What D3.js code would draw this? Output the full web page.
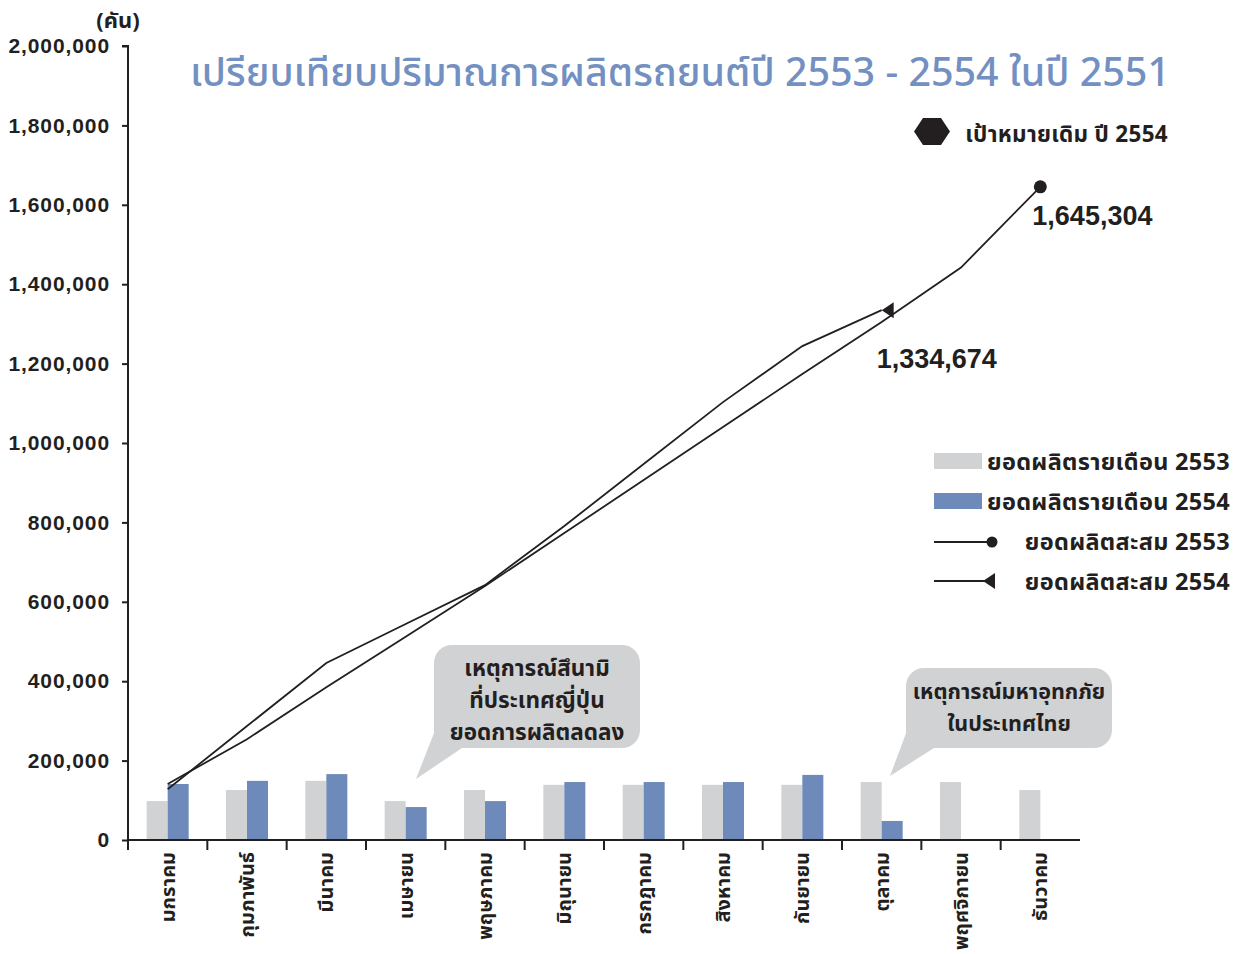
<!DOCTYPE html>
<html lang="th">
<head>
<meta charset="utf-8">
<script src="https://cdn.jsdelivr.net/npm/d3@7"></script>
<style>
  html, body { margin: 0; padding: 0; background: #ffffff; }
  svg { display: block; }
  text { font-family: "Noto Sans Thai", "Noto Sans", "DejaVu Sans", "Liberation Sans", sans-serif; }
  .num { font-family: "Liberation Sans", Arial, "Noto Sans Thai", sans-serif; }
</style>
</head>
<body>
<svg id="chart" width="1240" height="954"></svg>
<script>
// Months of the Thai calendar year
const months = ["มกราคม", "กุมภาพันธ์", "มีนาคม", "เมษายน", "พฤษภาคม", "มิถุนายน",
                "กรกฎาคม", "สิงหาคม", "กันยายน", "ตุลาคม", "พฤศจิกายน", "ธันวาคม"];

// Monthly production (vehicles)
const monthly2553 = [98000, 126000, 149000, 98000, 126000, 139000, 139000, 139000, 139000, 146000, 146000, 126000];
const monthly2554 = [141000, 149000, 166000, 83000, 98000, 146000, 146000, 146000, 164000, 48000];

// Cumulative production (vehicles)
const cumulative2553 = [141000, 254000, 385000, 512000, 640000, 773000, 907000, 1040000, 1174000, 1305000, 1442000, 1645304];
const cumulative2554 = [128000, 287000, 446000, 544000, 642000, 791000, 947000, 1103000, 1244000, 1334674];

// Y axis ticks
const yTicks = [0, 200000, 400000, 600000, 800000, 1000000, 1200000, 1400000, 1600000, 1800000, 2000000];

const titleText = "เปรียบเทียบปริมาณการผลิตรถยนต์ปี 2553 - 2554 ในปี 2551";
const unitText = "(คัน)";
const targetText = "เป้าหมายเดิม ปี 2554";
const legendItems = ["ยอดผลิตรายเดือน 2553", "ยอดผลิตรายเดือน 2554", "ยอดผลิตสะสม 2553", "ยอดผลิตสะสม 2554"];
const noteTsunami = ["เหตุการณ์สึนามิ", "ที่ประเทศญี่ปุ่น", "ยอดการผลิตลดลง"];
const noteFlood = ["เหตุการณ์มหาอุทกภัย", "ในประเทศไทย"];

const GRAY = "#d1d2d4";
const BLUE = "#6e8aba";
const INK = "#231f20";
const TITLE = "#7390c2";

const svg = d3.select("#chart");

const plot = { left: 128, right: 1080, top: 46, bottom: 840 };

const x = d3.scaleBand().domain(months).range([plot.left, plot.right]).padding(0);
const barW = 21;
const xSeries = d3.scaleBand().domain(["2553", "2554"])
  .range([x.bandwidth() / 2 - barW, x.bandwidth() / 2 + barW]).padding(0);
const y = d3.scaleLinear().domain([0, 2000000]).range([plot.bottom, plot.top]);
const cx = m => x(m) + x.bandwidth() / 2;

// Title
svg.append("text")
  .attr("x", 680).attr("y", 86)
  .attr("text-anchor", "middle")
  .attr("fill", TITLE)
  .attr("font-size", 40).attr("font-weight", 500)
  .attr("textLength", 980).attr("lengthAdjust", "spacingAndGlyphs")
  .text(titleText);

// Unit
svg.append("text")
  .attr("x", 118).attr("y", 28)
  .attr("text-anchor", "middle")
  .attr("font-weight", "bold").attr("font-size", 22)
  .attr("fill", INK)
  .text(unitText);

// Bars
const bars = svg.append("g");
bars.selectAll("rect.b2553").data(monthly2553).join("rect")
  .attr("x", (d, i) => x(months[i]) + xSeries("2553"))
  .attr("y", d => y(d))
  .attr("width", xSeries.bandwidth())
  .attr("height", d => y(0) - y(d))
  .attr("fill", GRAY);
bars.selectAll("rect.b2554").data(monthly2554).join("rect")
  .attr("x", (d, i) => x(months[i]) + xSeries("2554"))
  .attr("y", d => y(d))
  .attr("width", xSeries.bandwidth())
  .attr("height", d => y(0) - y(d))
  .attr("fill", BLUE);

// Y axis
const yAxis = svg.append("g")
  .attr("transform", `translate(${plot.left},0)`)
  .call(d3.axisLeft(y).tickValues(yTicks).tickFormat(d3.format(",")).tickSize(6).tickPadding(12));
yAxis.select(".domain").attr("stroke", INK).attr("stroke-width", 2).attr("d", `M-6,${plot.top}H0V${plot.bottom}`);
yAxis.selectAll(".tick line").attr("stroke", INK).attr("stroke-width", 2);
yAxis.selectAll(".tick text")
  .attr("class", "num")
  .attr("fill", INK).attr("font-size", 21).attr("font-weight", "bold")
  .attr("letter-spacing", 0.9);

// X axis
const xAxisG = svg.append("g").attr("transform", `translate(0,${plot.bottom})`);
xAxisG.append("line")
  .attr("x1", plot.left - 1).attr("x2", plot.right)
  .attr("stroke", INK).attr("stroke-width", 2);
xAxisG.selectAll("line.tick").data(months).join("line")
  .attr("x1", d => x(d)).attr("x2", d => x(d))
  .attr("y1", 0).attr("y2", 10)
  .attr("stroke", INK).attr("stroke-width", 2);
xAxisG.selectAll("text").data(months).join("text")
  .attr("transform", d => `translate(${cx(d)},12) rotate(-90)`)
  .attr("text-anchor", "end")
  .attr("dy", "0.35em")
  .attr("font-weight", "bold").attr("font-size", 20)
  .attr("fill", INK)
  .text(d => d);

// Cumulative lines
const line = d3.line().x((d, i) => cx(months[i])).y(d => y(d));
svg.append("path").datum(cumulative2553)
  .attr("d", line).attr("fill", "none").attr("stroke", INK).attr("stroke-width", 1.8);
svg.append("path").datum(cumulative2554)
  .attr("d", line).attr("fill", "none").attr("stroke", INK).attr("stroke-width", 1.8);

// End markers
const last2553 = cumulative2553.length - 1;
const last2554 = cumulative2554.length - 1;
svg.append("circle")
  .attr("cx", cx(months[last2553])).attr("cy", y(cumulative2553[last2553]))
  .attr("r", 6.5).attr("fill", INK);

// left-pointing triangle whose tip sits on the point
const triangle = (px, py) => {
  const p = d3.path();
  p.moveTo(px, py);
  p.lineTo(px + 12, py - 8);
  p.lineTo(px + 12, py + 8);
  p.closePath();
  return p.toString();
};
svg.append("path")
  .attr("d", triangle(cx(months[last2554]), y(cumulative2554[last2554])))
  .attr("fill", INK);

// Value labels at line ends
svg.append("text").attr("class", "num")
  .attr("x", cx(months[last2553]) - 8).attr("y", y(cumulative2553[last2553]) + 38)
  .attr("font-size", 27).attr("font-weight", "bold").attr("fill", INK)
  .text(d3.format(",")(cumulative2553[last2553]));
svg.append("text").attr("class", "num")
  .attr("x", cx(months[last2554]) - 5).attr("y", y(cumulative2554[last2554]) + 58)
  .attr("font-size", 27).attr("font-weight", "bold").attr("fill", INK)
  .text(d3.format(",")(cumulative2554[last2554]));

// Target marker (hexagon)
const hex = d3.path();
hex.moveTo(914, 131.5); hex.lineTo(923, 118); hex.lineTo(941, 118);
hex.lineTo(950, 131.5); hex.lineTo(941, 145); hex.lineTo(923, 145); hex.closePath();
svg.append("path").attr("d", hex.toString()).attr("fill", INK);
svg.append("text")
  .attr("x", 1168).attr("y", 142)
  .attr("text-anchor", "end")
  .attr("font-size", 22.5).attr("font-weight", "bold").attr("fill", INK)
  .attr("letter-spacing", 0.3)
  .text(targetText);

// Legend
const legend = svg.append("g");
const legY = [461, 501, 541, 581];
legend.append("rect").attr("x", 934).attr("y", legY[0] - 8).attr("width", 48).attr("height", 16).attr("fill", GRAY);
legend.append("rect").attr("x", 934).attr("y", legY[1] - 8).attr("width", 48).attr("height", 16).attr("fill", BLUE);
legend.append("line").attr("x1", 934).attr("x2", 990).attr("y1", legY[2] + 1).attr("y2", legY[2] + 1)
  .attr("stroke", INK).attr("stroke-width", 2);
legend.append("circle").attr("cx", 992).attr("cy", legY[2] + 1).attr("r", 5.5).attr("fill", INK);
legend.append("line").attr("x1", 934).attr("x2", 990).attr("y1", legY[3]).attr("y2", legY[3])
  .attr("stroke", INK).attr("stroke-width", 2);
legend.append("path").attr("d", triangle(983, legY[3])).attr("fill", INK);
legend.selectAll("text").data(legendItems).join("text")
  .attr("x", 1230).attr("y", (d, i) => legY[i] + 9)
  .attr("text-anchor", "end")
  .attr("font-size", 23.5).attr("font-weight", "bold").attr("fill", INK)
  .attr("letter-spacing", 0.3)
  .text(d => d);

// Callout bubbles
function bubble(box, tail, lines, lineY, size) {
  const g = svg.append("g");
  g.append("rect")
    .attr("x", box[0]).attr("y", box[1]).attr("width", box[2]).attr("height", box[3])
    .attr("rx", 18).attr("ry", 18).attr("fill", GRAY);
  g.append("path")
    .attr("d", d3.line()(tail) + "Z")
    .attr("fill", GRAY);
  g.selectAll("text").data(lines).join("text")
    .attr("x", box[0] + box[2] / 2)
    .attr("y", (d, i) => lineY[i])
    .attr("text-anchor", "middle")
    .attr("font-size", size).attr("font-weight", "bold").attr("fill", INK)
    .text(d => d);
}
bubble([434, 645, 206, 103], [[436, 728], [416, 779], [462, 748]], noteTsunami, [676, 708, 740], 22.5);
bubble([906, 668, 206, 80], [[908, 728], [890, 776], [934, 748]], noteFlood, [699, 731], 21.5);
</script>
</body>
</html>
